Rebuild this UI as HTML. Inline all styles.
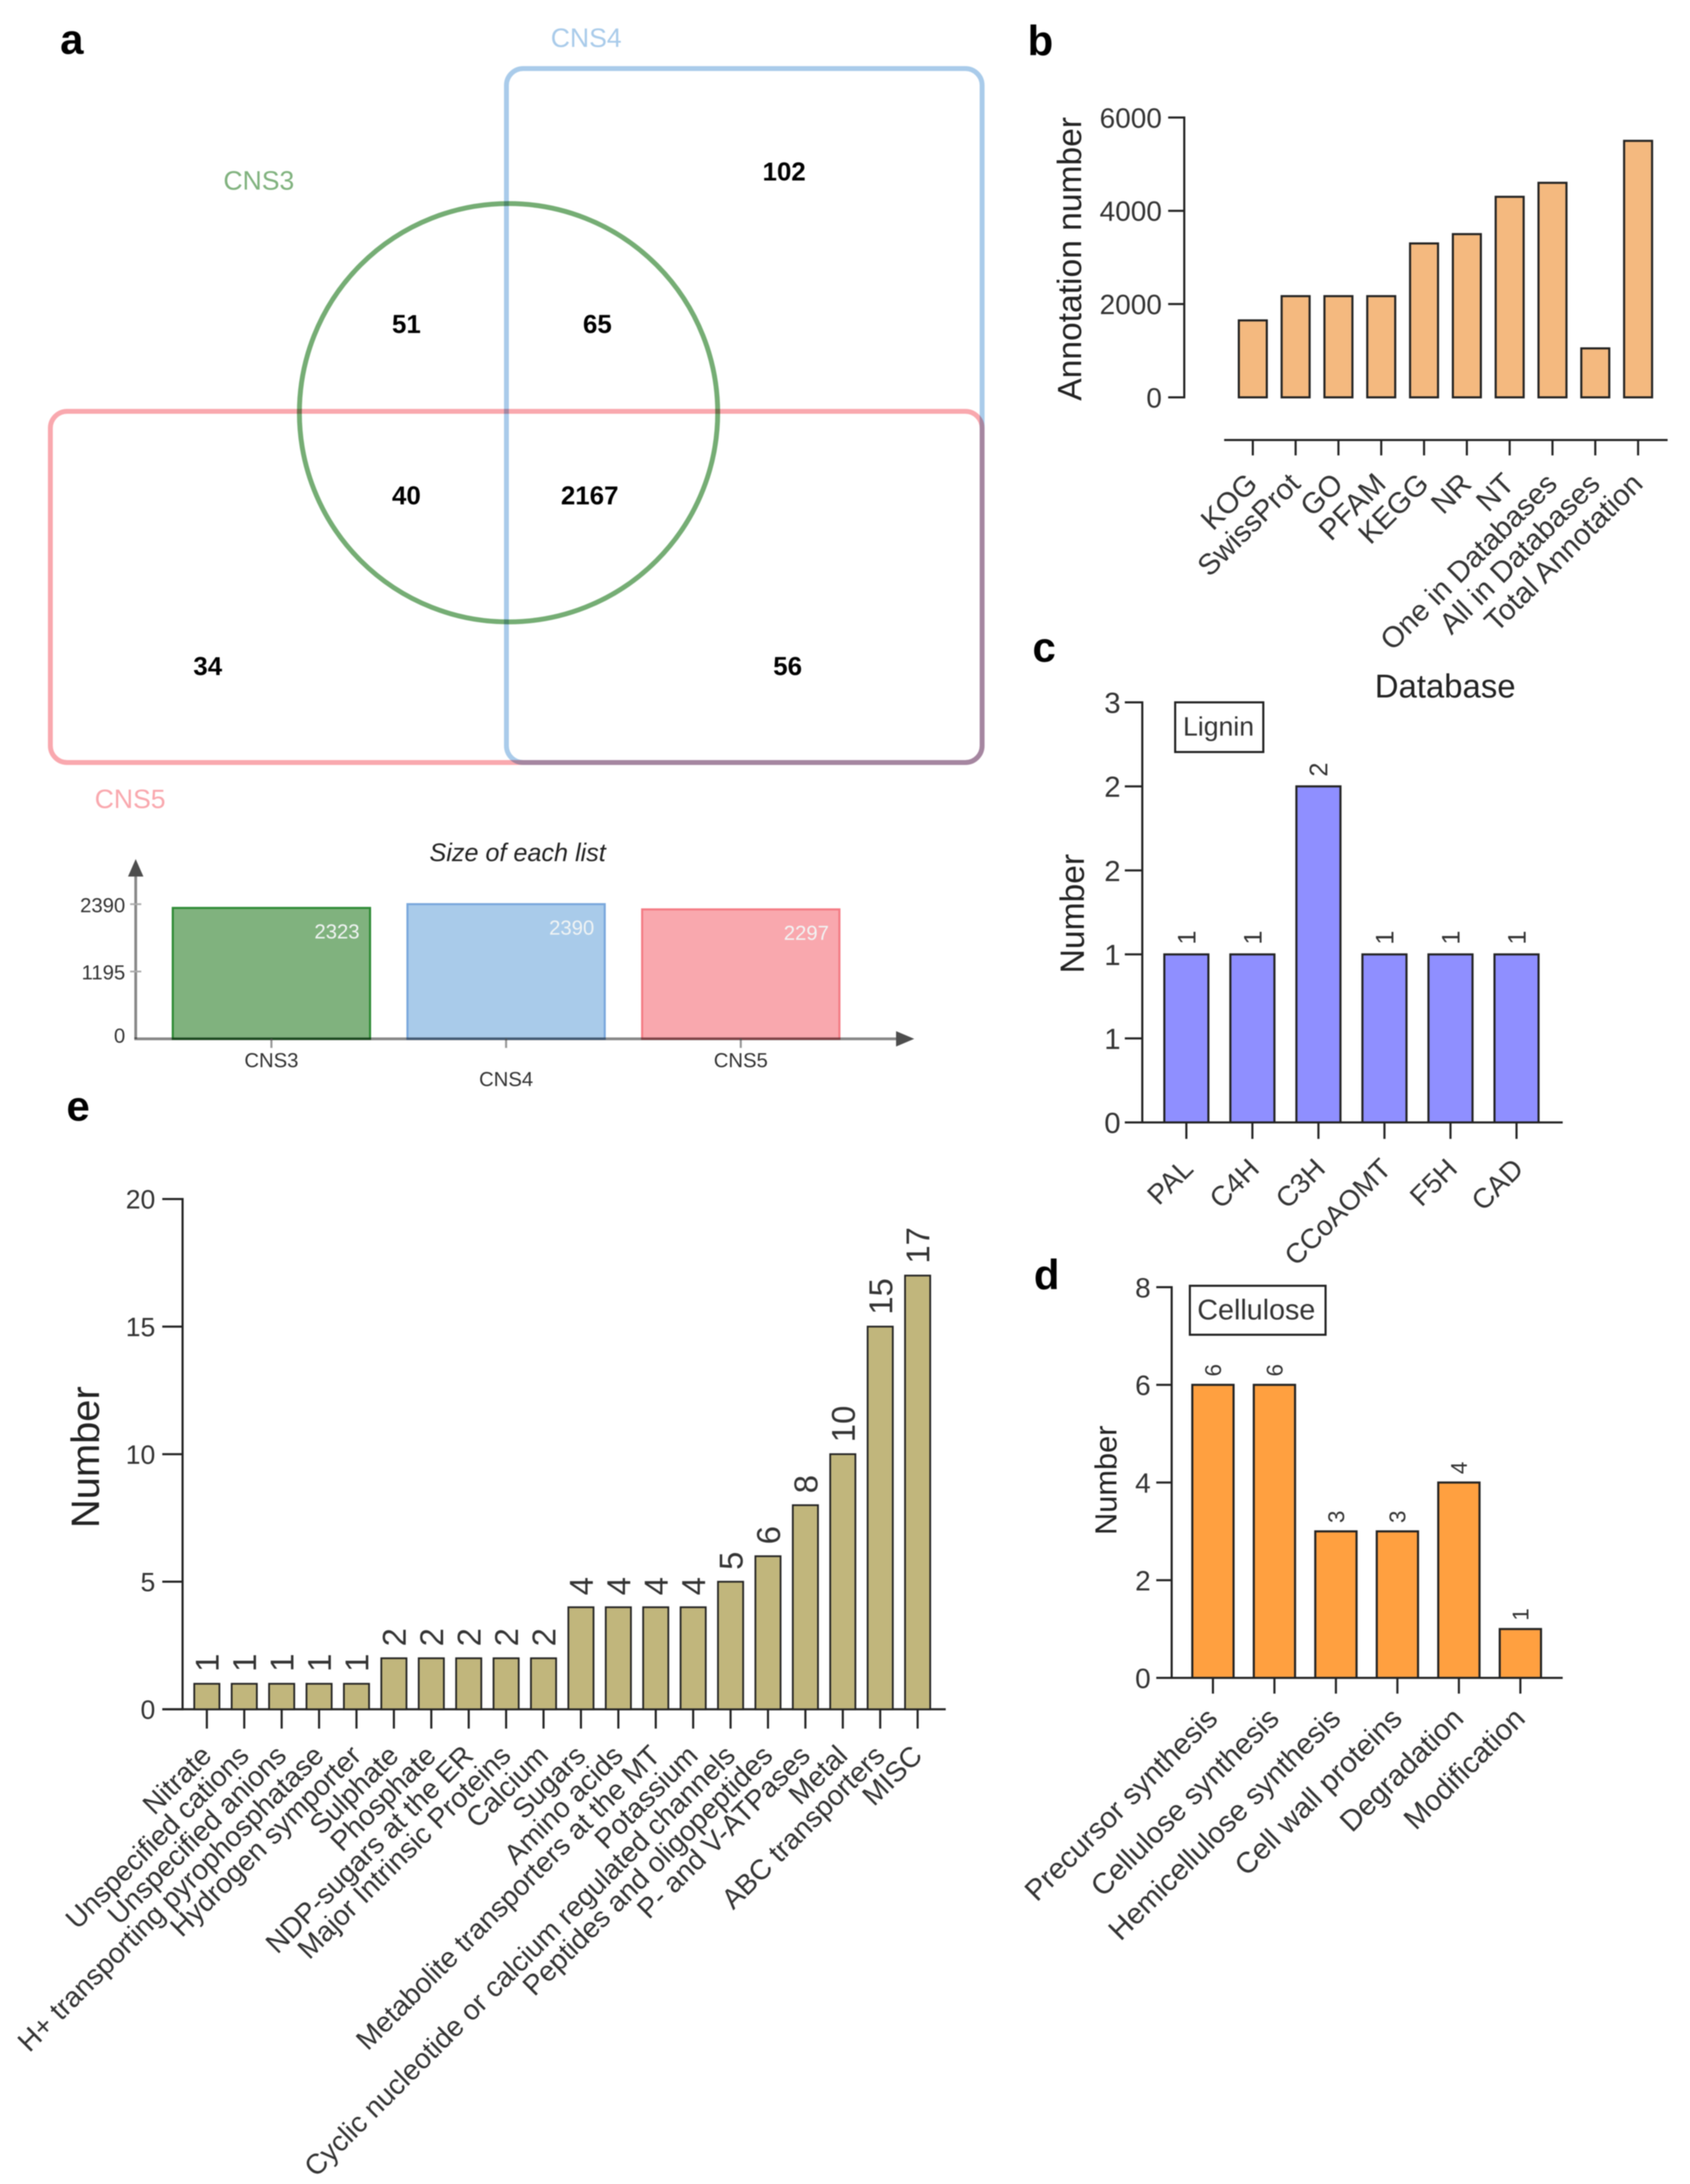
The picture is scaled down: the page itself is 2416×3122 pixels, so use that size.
<!DOCTYPE html>
<html lang="en">
<head>
<meta charset="utf-8">
<title>Transcriptome annotation figure</title>
<style>
html,body{margin:0;padding:0;background:#fff;}
#figure{display:block;width:2416px;height:3122px;filter:blur(0.9px);}
text{font-family:"Liberation Sans",Arial,sans-serif;}
</style>
</head>
<body>
<svg id="figure" xmlns="http://www.w3.org/2000/svg" width="2416" height="3122" viewBox="0 0 2416 3122">
  <rect x="0" y="0" width="2416" height="3122" fill="#fff"/>

  <text x="86" y="77" font-size="60" font-weight="bold" fill="#000">a</text>
  <text x="1469" y="79" font-size="60" font-weight="bold" fill="#000">b</text>
  <text x="1476" y="946" font-size="60" font-weight="bold" fill="#000">c</text>
  <text x="1478" y="1843" font-size="60" font-weight="bold" fill="#000">d</text>
  <text x="95" y="1602" font-size="60" font-weight="bold" fill="#000">e</text>

  <g>
    <circle cx="727" cy="590" r="299" fill="none" stroke="#75ad74" stroke-width="7"/>
    <rect x="724" y="98" width="680" height="992" rx="24" fill="none" stroke="#a9cbea" stroke-width="7" style="mix-blend-mode:multiply"/>
    <rect x="72" y="588" width="1332" height="502" rx="24" fill="none" stroke="#f9a8ae" stroke-width="7" style="mix-blend-mode:multiply"/>
    <text x="838" y="67" font-size="38" fill="#a9cbea" text-anchor="middle">CNS4</text>
    <text x="370" y="271" font-size="38" fill="#80b27e" text-anchor="middle">CNS3</text>
    <text x="186" y="1155" font-size="38" fill="#f9a8ae" text-anchor="middle">CNS5</text>
    <text x="1121" y="258" font-size="37" font-weight="bold" fill="#000" text-anchor="middle">102</text>
    <text x="581" y="476" font-size="37" font-weight="bold" fill="#000" text-anchor="middle">51</text>
    <text x="854" y="476" font-size="37" font-weight="bold" fill="#000" text-anchor="middle">65</text>
    <text x="581" y="721" font-size="37" font-weight="bold" fill="#000" text-anchor="middle">40</text>
    <text x="843" y="721" font-size="37" font-weight="bold" fill="#000" text-anchor="middle">2167</text>
    <text x="297" y="965" font-size="37" font-weight="bold" fill="#000" text-anchor="middle">34</text>
    <text x="1126" y="965" font-size="37" font-weight="bold" fill="#000" text-anchor="middle">56</text>
  </g>

  <g id="size-chart"></g>
  <g id="chart-b"></g>
  <g id="chart-c"></g>
  <g id="chart-d"></g>
  <g id="chart-e"></g>
</svg>

<script>
/* ---------- chart data ---------- */
const sizeCategories = ['CNS3', 'CNS4', 'CNS5'];
const sizeValues = [2323, 2390, 2297];
const sizeTicks = [0, 1195, 2390];

const annotationCategories = ['KOG', 'SwissProt', 'GO', 'PFAM', 'KEGG', 'NR', 'NT', 'One in Databases', 'All in Databases', 'Total Annotation'];
const annotationValues = [1650, 2170, 2170, 2170, 3300, 3500, 4300, 4600, 1050, 5500];
const annotationTicks = [0, 2000, 4000, 6000];
const annotationTickLabels = ['0', '2000', '4000', '6000'];

const ligninCategories = ['PAL', 'C4H', 'C3H', 'CCoAOMT', 'F5H', 'CAD'];
const ligninValues = [1, 1, 2, 1, 1, 1];
const ligninTicks = [0, 0.5, 1, 1.5, 2, 2.5];
const ligninTickLabels = ['0', '1', '1', '2', '2', '3'];

const celluloseCategories = ['Precursor synthesis', 'Cellulose synthesis', 'Hemicellulose synthesis', 'Cell wall proteins', 'Degradation', 'Modification'];
const celluloseValues = [6, 6, 3, 3, 4, 1];
const celluloseTicks = [0, 2, 4, 6, 8];
const celluloseTickLabels = ['0', '2', '4', '6', '8'];

const transporterCategories = ['Nitrate', 'Unspecified cations', 'Unspecified anions', 'H+ transporting pyrophosphatase', 'Hydrogen symporter', 'Sulphate', 'Phosphate', 'NDP-sugars at the ER', 'Major Intrinsic Proteins', 'Calcium', 'Sugars', 'Amino acids', 'Metabolite transporters at the MT', 'Potassium', 'Cyclic nucleotide or calcium regulated channels', 'Peptides and oligopeptides', 'P- and V-ATPases', 'Metal', 'ABC transporters', 'MISC'];
const transporterValues = [1, 1, 1, 1, 1, 2, 2, 2, 2, 2, 4, 4, 4, 4, 5, 6, 8, 10, 15, 17];
const transporterTicks = [0, 5, 10, 15, 20];
const transporterTickLabels = ['0', '5', '10', '15', '20'];

/* ---------- helpers ---------- */
const SVGNS = 'http://www.w3.org/2000/svg';
function make(parent, tag, props, content) {
  const node = document.createElementNS(SVGNS, tag);
  for (const k in props) node.setAttribute(k, props[k]);
  if (content !== undefined) node.textContent = content;
  parent.appendChild(node);
  return node;
}
function slug(s) {
  return String(s).toLowerCase().replace(/[^a-z0-9]+/g, '-').replace(/^-|-$/g, '');
}

/* ---------- generic bar chart (panels b-e) ---------- */
function drawBars(rootId, cats, vals, ticks, tickLabels, o) {
  const root = document.getElementById(rootId);
  const y = v => o.base - (v - ticks[0]) / (ticks[ticks.length - 1] - ticks[0]) * (o.base - o.top);
  const x = i => o.firstX + i * o.pitch;

  const yAxis = make(root, 'line', {x1: o.axisX, x2: o.axisX, y1: y(ticks[ticks.length - 1]) - 1.5, y2: o.base + 1.5, stroke: o.axisColor, 'stroke-width': 3});
  
  

  ticks.forEach((t, i) => {
    const mark = make(root, 'line', {x1: o.tickLeft, x2: o.axisX, y1: y(t), y2: y(t), stroke: o.axisColor, 'stroke-width': 3});
    
    
    const lab = make(root, 'text', {x: o.tickLabelX, y: y(t), dy: '.36em', 'text-anchor': 'end', 'font-size': o.tickFont, fill: '#333'}, tickLabels[i]);
    
    
  });

  const xAxis = make(root, 'line', {x1: o.xAxisLeft, x2: o.xAxisRight, y1: o.xAxisY, y2: o.xAxisY, stroke: o.axisColor, 'stroke-width': 3});
  
  

  cats.forEach((c, i) => {
    const cx = x(i);
    const top = y(vals[i]);
    const bar = make(root, 'rect', {x: cx - o.barW / 2, y: top, width: o.barW, height: o.base - top, fill: o.fill, stroke: '#222', 'stroke-width': o.barStroke});
    
    

    const tick = make(root, 'line', {x1: cx, x2: cx, y1: o.xAxisY, y2: o.xTickEnd, stroke: o.axisColor, 'stroke-width': 3});
    
    

    const lx = cx + o.labelDx;
    const lab = make(root, 'text', {x: lx, y: o.labelY, 'text-anchor': 'end', 'font-size': o.labelFont, fill: '#333', transform: 'rotate(-45 ' + lx + ' ' + o.labelY + ')'}, c);
    
    

    if (o.valueFont) {
      const vy = top - o.valueGap;
      const val = make(root, 'text', {x: cx, y: vy, dy: '.36em', 'text-anchor': 'start', 'font-size': o.valueFont, fill: '#333', transform: 'rotate(-90 ' + cx + ' ' + vy + ')'}, vals[i]);
      
      
    }
  });

  const title = make(root, 'text', {x: o.titleX, y: o.titleY, dy: '.36em', 'text-anchor': 'middle', 'font-size': o.titleFont, fill: '#222', transform: 'rotate(-90 ' + o.titleX + ' ' + o.titleY + ')'}, o.title);
  
  

  return root;
}

drawBars('chart-b', annotationCategories, annotationValues, annotationTicks, annotationTickLabels, {
  base: 568, top: 168, axisX: 1693, tickLeft: 1670, tickLabelX: 1661, tickFont: 40,
  firstX: 1791, pitch: 61.2, barW: 40, barStroke: 3, fill: '#f4b97f', axisColor: '#222',
  xAxisLeft: 1750, xAxisRight: 2384, xAxisY: 629, xTickEnd: 651,
  labelDx: 9, labelY: 694, labelFont: 42,
  title: 'Annotation number', titleX: 1528, titleY: 370, titleFont: 48
});

const databaseTitle = make(document.getElementById('chart-b'), 'text', {x: 2066, y: 997, 'text-anchor': 'middle', 'font-size': 47, fill: '#222'}, 'Database');



const chartC = drawBars('chart-c', ligninCategories, ligninValues, ligninTicks, ligninTickLabels, {
  base: 1604.5, top: 1004, axisX: 1633, tickLeft: 1608, tickLabelX: 1602, tickFont: 42,
  firstX: 1696, pitch: 94.4, barW: 63, barStroke: 3, fill: '#8f8fff', axisColor: '#222',
  xAxisLeft: 1608, xAxisRight: 2234, xAxisY: 1604.5, xTickEnd: 1628,
  labelDx: 12, labelY: 1673, labelFont: 40,
  valueFont: 36, valueGap: 14,
  title: 'Number', titleX: 1532, titleY: 1306, titleFont: 48
});
const ligninBox = make(chartC, 'rect', {x: 1680, y: 1004, width: 126, height: 71, fill: '#fff', stroke: '#222', 'stroke-width': 3});


const ligninText = make(chartC, 'text', {x: 1742, y: 1038, dy: '.36em', 'text-anchor': 'middle', 'font-size': 38, fill: '#333'}, 'Lignin');



const chartD = drawBars('chart-d', celluloseCategories, celluloseValues, celluloseTicks, celluloseTickLabels, {
  base: 2398.5, top: 1840, axisX: 1675, tickLeft: 1653, tickLabelX: 1645, tickFont: 40,
  firstX: 1734, pitch: 87.9, barW: 59, barStroke: 3, fill: '#ffa040', axisColor: '#222',
  xAxisLeft: 1653, xAxisRight: 2234, xAxisY: 2398.5, xTickEnd: 2421,
  labelDx: 9, labelY: 2459, labelFont: 42,
  valueFont: 32, valueGap: 12,
  title: 'Number', titleX: 1580, titleY: 2116, titleFont: 44
});
const celluloseBox = make(chartD, 'rect', {x: 1701, y: 1838, width: 194, height: 70, fill: '#fff', stroke: '#222', 'stroke-width': 3});


const celluloseText = make(chartD, 'text', {x: 1796, y: 1871, dy: '.36em', 'text-anchor': 'middle', 'font-size': 41, fill: '#333'}, 'Cellulose');



drawBars('chart-e', transporterCategories, transporterValues, transporterTicks, transporterTickLabels, {
  base: 2443.4, top: 1714, axisX: 261, tickLeft: 232, tickLabelX: 222, tickFont: 38,
  firstX: 295.7, pitch: 53.48, barW: 36, barStroke: 2.5, fill: '#c1b67c', axisColor: '#222',
  xAxisLeft: 232, xAxisRight: 1352, xAxisY: 2443.4, xTickEnd: 2471,
  labelDx: 9, labelY: 2512, labelFont: 40.4,
  valueFont: 47, valueGap: 17,
  title: 'Number', titleX: 121, titleY: 2083, titleFont: 57
});

/* ---------- list-size chart (panel a, lower) ---------- */
(function () {
  const root = document.getElementById('size-chart');
  const barColors = [['#80b27e', '#2e8b35'], ['#a9cbea', '#7aa8dc'], ['#f9a8ae', '#f47b84']];
  const base = 1485, span = 192.5, maxVal = 2390;
  const y = v => base - v / maxVal * span;
  const x = i => 388 + i * 335.5;
  const valueYOffset = 33;

  const title = make(root, 'text', {x: 740, y: 1231, 'text-anchor': 'middle', 'font-size': 36, 'font-style': 'italic', fill: '#222'}, 'Size of each list');
  
  

  const yAxis = make(root, 'line', {x1: 194, x2: 194, y1: 1245, y2: base, stroke: '#888', 'stroke-width': 4});
  
  

  sizeCategories.forEach((c, i) => {
    const top = y(sizeValues[i]);
    const bar = make(root, 'rect', {x: x(i) - 141, y: top, width: 282, height: base - top, fill: barColors[i][0], stroke: barColors[i][1], 'stroke-width': 3});
    
    

    const val = make(root, 'text', {x: x(i) + 126, y: top + valueYOffset, dy: '.36em', 'text-anchor': 'end', 'font-size': 29, fill: '#f1f4f4'}, sizeValues[i]);
    
    

    const tick = make(root, 'line', {x1: x(i), x2: x(i), y1: base, y2: 1498, stroke: '#999', 'stroke-width': 3});
    
    

    const labY = i === 1 ? 1542 : 1515;
    const lab = make(root, 'text', {x: x(i), y: labY, dy: '.36em', 'text-anchor': 'middle', 'font-size': 29, fill: '#333'}, c);
    
    
  });

  sizeTicks.forEach(t => {
    const lab = make(root, 'text', {x: 179, y: t === 0 ? y(t) - 5 : y(t) + 1, dy: '.36em', 'text-anchor': 'end', 'font-size': 29, fill: '#333'}, t);
    
    
    if (t !== 0) {
      const tick = make(root, 'line', {x1: 186, x2: 202, y1: y(t), y2: y(t), stroke: '#aaa', 'stroke-width': 2.5});
      
      
    }
  });

  const xAxis = make(root, 'line', {x1: 192, x2: 1285, y1: base, y2: base, stroke: '#888', 'stroke-width': 4, style: 'mix-blend-mode:multiply'});
  
  
  const yArrow = make(root, 'polygon', {points: '194,1228 183,1253 205,1253', fill: '#4d4d4d'});
  
  
  const xArrow = make(root, 'polygon', {points: '1307,1485 1281,1474 1281,1496', fill: '#4d4d4d'});
  
  
})();
</script>
</body>
</html>
